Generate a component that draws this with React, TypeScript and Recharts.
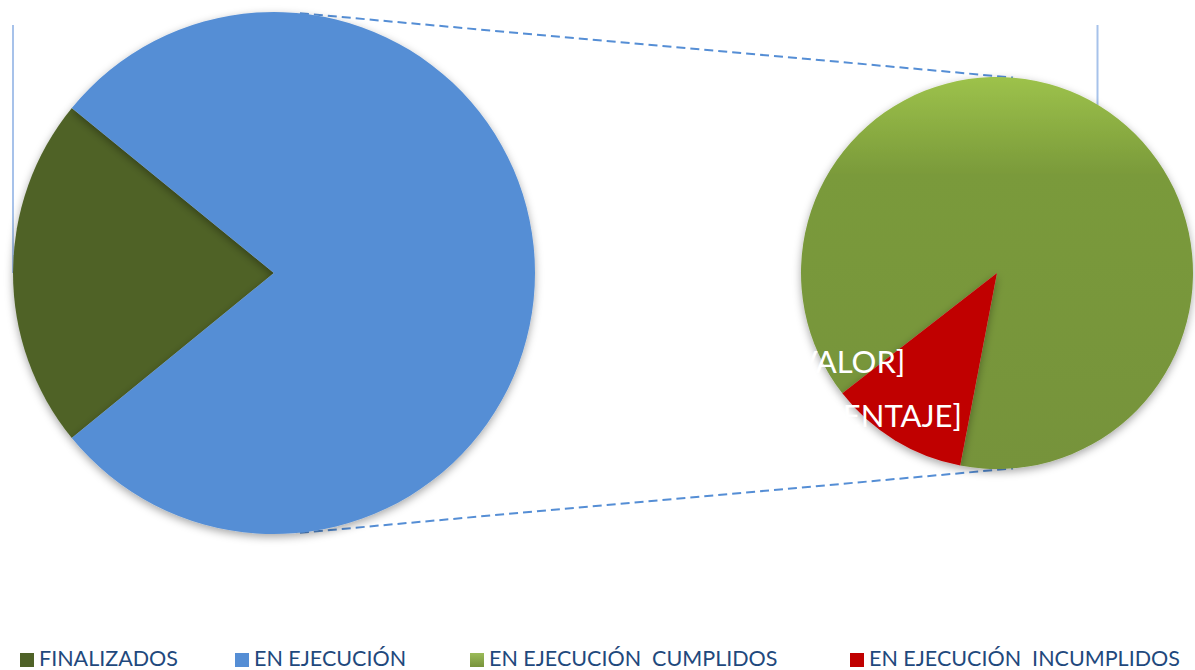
import React from "react";
import { PieChart, Pie, Cell, Legend } from "recharts";

const mainCategories = ["FINALIZADOS", "EN EJECUCIÓN"];
const mainValues = [17, 61];
const subCategories = ["EN EJECUCIÓN  CUMPLIDOS", "EN EJECUCIÓN  INCUMPLIDOS"];
const subValues = [54, 7];
const subLabelLines = ["[VALOR]", "[PORCENTAJE]"];

const legendNames = [...mainCategories, ...subCategories];
const legendColors = ["#4F6228", "#558ED5", "url(#gLegend)", "#C00000"];
const legendLeft = [20, 235, 470, 850];

const mainData = mainCategories.map((name, i) => ({ name, value: mainValues[i] }));
const subData = subCategories.map((name, i) => ({ name, value: subValues[i] }));

const W = 1195;
const H = 670;
const C1 = { cx: 274, cy: 273, r: 261 };
const C2 = { cx: 997, cy: 273, r: 196 };

const mainColors = ["#4F6228", "#558ED5"];
const subColors = ["url(#gGreen)", "#C00000"];

const mainShare = mainValues[0] / (mainValues[0] + mainValues[1]);
const mainStart = 180 - (mainShare * 360) / 2;
const subRedEnd = 259.2;
const subStart = subRedEnd;

const Connectors = () => {
  const a1 = (84.3 * Math.PI) / 180;
  const a2 = (85.6 * Math.PI) / 180;
  const p1t = [C1.cx + C1.r * Math.cos(a1), C1.cy - C1.r * Math.sin(a1)];
  const p1b = [C1.cx + C1.r * Math.cos(a1), C1.cy + C1.r * Math.sin(a1)];
  const p2t = [C2.cx + C2.r * Math.cos(a2) + 1, C2.cy - C2.r * Math.sin(a2)];
  const p2b = [C2.cx + C2.r * Math.cos(a2) + 1, C2.cy + C2.r * Math.sin(a2)];
  return (
    <g>
      <line x1={p1t[0]} y1={p1t[1]} x2={p2t[0]} y2={p2t[1]} stroke="#558ED5" strokeWidth={2} strokeDasharray="9 5" />
      <line x1={p1b[0]} y1={p1b[1]} x2={p2b[0]} y2={p2b[1]} stroke="#558ED5" strokeWidth={2} strokeDasharray="9 5" />
      <line x1={13} y1={25} x2={13} y2={C1.cy} stroke="#A7C2EA" strokeWidth={2} />
      <line x1={1097.5} y1={25} x2={1097.5} y2={105} stroke="#A7C2EA" strokeWidth={2} />
    </g>
  );
};

const renderSubLabel = (props: any) => {
  if (props.index !== 1) return null;
  const x = C2.cx - 151;
  return (
    <text
      x={x}
      y={C2.cy + 100}
      fill="#FFFFFF"
      textAnchor="middle"
      style={{ fontFamily: "Lato, 'Open Sans', sans-serif", fontSize: 31 }}
    >
      <tspan x={x} dy={0}>{subLabelLines[0]}</tspan>
      <tspan x={x + 10} dy={54}>{subLabelLines[1]}</tspan>
    </text>
  );
};

const renderLegend = () => (
  <div style={{ position: "relative", width: W, height: 22 }}>
    {legendNames.map((n, i) => (
      <div
        key={n}
        style={{
          position: "absolute",
          left: legendLeft[i],
          top: 0,
          height: 22,
          lineHeight: "22px",
          display: "flex",
          alignItems: "center",
          whiteSpace: "pre",
          fontFamily: "Lato, 'Open Sans', sans-serif",
          fontSize: 21.5,
          color: "#1F497D",
        }}
      >
        <span
          style={{
            display: "inline-block",
            width: 14,
            height: 14,
            marginRight: 5,
            marginTop: 3,
            background: i === 2 ? "linear-gradient(#9BBB59, #77933C)" : legendColors[i],
          }}
        />
        {n}
      </div>
    ))}
  </div>
);

export default function App() {
  return (
    <div style={{ position: "absolute", left: 0, top: 0, width: W, height: H, background: "#fff", overflow: "hidden" }}>
      <PieChart width={W} height={H} margin={{ top: 0, right: 0, bottom: 0, left: 0 }}>
        <defs>
          <linearGradient id="gGreen" x1="0" y1="0" x2="0" y2="1">
            <stop offset="0%" stopColor="#9DC24B" />
            <stop offset="25%" stopColor="#7A9A3A" />
            <stop offset="100%" stopColor="#76933A" />
          </linearGradient>
          <filter id="shadow" x="-10%" y="-10%" width="120%" height="125%">
            <feDropShadow dx="0" dy="3" stdDeviation="4" floodColor="#000" floodOpacity="0.35" />
          </filter>
        </defs>
        <Connectors />
        <Pie
          data={mainData}
          dataKey="value"
          nameKey="name"
          cx={C1.cx}
          cy={C1.cy}
          outerRadius={C1.r}
          startAngle={mainStart}
          endAngle={mainStart + 360}
          stroke="none"
          isAnimationActive={false}
          style={{ filter: "url(#shadow)" }}
        >
          {mainData.map((d, i) => (
            <Cell key={d.name} fill={mainColors[i]} />
          ))}
        </Pie>
        <Pie
          data={subData}
          dataKey="value"
          nameKey="name"
          cx={C2.cx}
          cy={C2.cy}
          outerRadius={C2.r}
          startAngle={subStart}
          endAngle={subStart + 360}
          stroke="none"
          isAnimationActive={false}
          label={renderSubLabel}
          labelLine={false}
          style={{ filter: "url(#shadow)" }}
        >
          {subData.map((d, i) => (
            <Cell key={d.name} fill={subColors[i]} />
          ))}
        </Pie>
        <Legend verticalAlign="bottom" align="left" content={renderLegend} wrapperStyle={{ left: 0, bottom: 1, width: W }} />
      </PieChart>
    </div>
  );
}
